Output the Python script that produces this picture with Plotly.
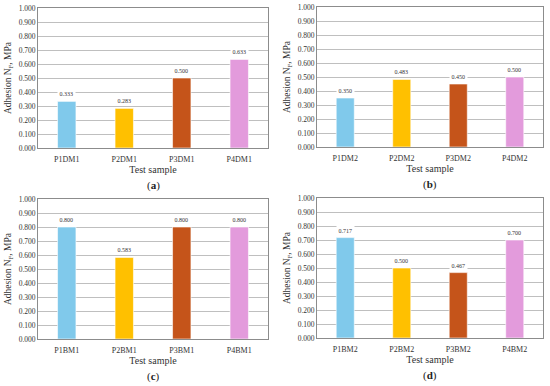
import plotly.graph_objects as go

panel_labels = ["a", "b", "c", "d"]
categories_a = ["P1DM1", "P2DM1", "P3DM1", "P4DM1"]
categories_b = ["P1DM2", "P2DM2", "P3DM2", "P4DM2"]
categories_c = ["P1BM1", "P2BM1", "P3BM1", "P4BM1"]
categories_d = ["P1BM2", "P2BM2", "P3BM2", "P4BM2"]
values_a = [0.333, 0.283, 0.500, 0.633]
values_b = [0.350, 0.483, 0.450, 0.500]
values_c = [0.800, 0.583, 0.800, 0.800]
values_d = [0.717, 0.500, 0.467, 0.700]
y_ticks = [0.0, 0.1, 0.2, 0.3, 0.4, 0.5, 0.6, 0.7, 0.8, 0.9, 1.0]

colors = ["#80C9EB", "#FFC000", "#C5541A", "#E39BDC"]
FONT = "Liberation Serif"

W, H = 550, 386
domains = [
    ((38, 268), (148, 8)),
    ((317, 543), (147, 7)),
    ((38, 268), (339, 199)),
    ((317, 543), (338, 198)),
]
panels = [
    (categories_a, values_a),
    (categories_b, values_b),
    (categories_c, values_c),
    (categories_d, values_d),
]

fig = go.Figure()
layout = dict(
    width=W, height=H, margin=dict(l=0, r=0, t=0, b=0, autoexpand=False),
    paper_bgcolor="white", plot_bgcolor="white", showlegend=False,
    font=dict(family=FONT, color="#404040"),
    bargap=0.68,
)
annotations = []
for i, ((cats, vals), ((x0, x1), (yb, yt))) in enumerate(zip(panels, domains)):
    n = "" if i == 0 else str(i + 1)
    xa, ya = "x" + n, "y" + n
    fig.add_trace(go.Bar(
        x=cats, y=vals, xaxis=xa, yaxis=ya,
        marker=dict(color=colors, line=dict(width=0.6, color="white")),
        width=0.32, hoverinfo="x+y",
    ))
    layout["xaxis" + n] = dict(
        domain=[x0 / W, x1 / W], anchor=ya, showgrid=False, automargin=False,
        showline=True, mirror=True, linecolor="#8C8C8C", linewidth=1,
        ticks="outside", ticklen=3, tickcolor="rgba(0,0,0,0)",
        tickfont=dict(size=8, color="#333333", family=FONT),
        title=dict(text="Test sample", font=dict(size=10, color="#333333", family=FONT), standoff=0),
        fixedrange=True,
    )
    layout["yaxis" + n] = dict(
        domain=[(H - yb) / H, (H - yt) / H], anchor=xa, range=[0, 1],
        tickvals=y_ticks, tickformat=".3f", automargin=False,
        showgrid=True, gridcolor="#BFBFBF", gridwidth=1,
        showline=True, mirror=True, linecolor="#8C8C8C", linewidth=1,
        ticks="", tickfont=dict(size=7.5, color="#333333", family=FONT),
        title=dict(text="Adhesion N<sub>F</sub>, MPa", font=dict(size=9.5, color="#333333", family=FONT), standoff=5),
        zeroline=False, fixedrange=True,
    )
    for c, v in zip(cats, vals):
        annotations.append(dict(
            x=c, y=v, xref=xa, yref=ya, text=f"{v:.3f}", showarrow=False,
            yanchor="bottom", yshift=2, bgcolor="white", borderpad=1.5,
            font=dict(size=6, color="#333333", family=FONT),
        ))
    annotations.append(dict(
        x=(x0 + x1) / 2 / W, y=(H - (yb + 37)) / H, xref="paper", yref="paper",
        xanchor="center", yanchor="middle",
        text="(<b>" + panel_labels[i] + "</b>)",
        showarrow=False, font=dict(size=11, color="#222222", family=FONT),
    ))
layout["annotations"] = annotations
fig.update_layout(**layout)
fig.write_html("out.html", config={"displayModeBar": False},
               post_script="document.body.style.margin='0px';")
